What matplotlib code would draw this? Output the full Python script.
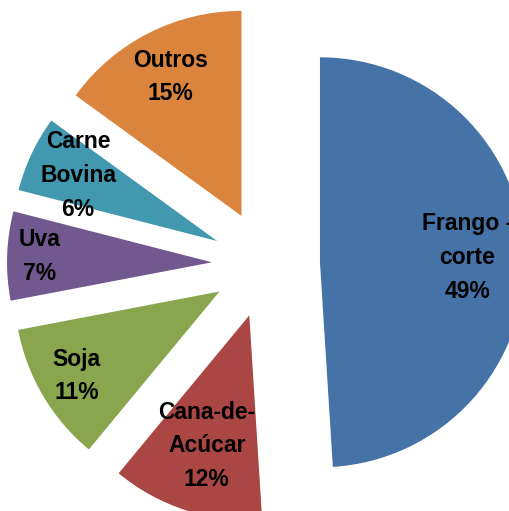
import numpy as np
import matplotlib
matplotlib.use("Agg")
import matplotlib.pyplot as plt

categories = ["Frango -\ncorte", "Cana-de-\nAcúcar", "Soja", "Uva", "Carne\nBovina", "Outros"]
values = [49, 12, 11, 7, 6, 15]
colors = ["#4572A7", "#AA4643", "#89A54E", "#71588F", "#4198AF", "#DB843D"]
label_dist = [0.72, 0.67, 0.81, 0.84, 0.75, 0.76]

W, H = 509, 511
fig = plt.figure(figsize=(W / 100, H / 100), dpi=100)
ax = fig.add_axes([0, 0, 1, 1])

R = 205
center = (266, H - 264)
explode = [54] * len(values)

wedges, _ = ax.pie(values, colors=colors, startangle=90, counterclock=False,
                   explode=explode, radius=R, center=center,
                   wedgeprops=dict(linewidth=0))

font = ["Liberation Sans Narrow", "Liberation Sans", "DejaVu Sans"]
total = sum(values)
for w, lab, v, d in zip(wedges, categories, values, label_dist):
    thm = np.deg2rad((w.theta1 + w.theta2) / 2)
    cx, cy = w.center
    x = cx + d * R * np.cos(thm)
    y = cy + d * R * np.sin(thm)
    pct = round(100 * v / total)
    ax.text(x, y, f"{lab}\n{pct}%", ha="center", va="center",
            fontsize=16.5, fontweight="bold", family=font, color="black",
            linespacing=1.6)

ax.set_xlim(0, W)
ax.set_ylim(0, H)
ax.set_aspect("equal")
ax.axis("off")
fig.savefig("out.png", dpi=100)
